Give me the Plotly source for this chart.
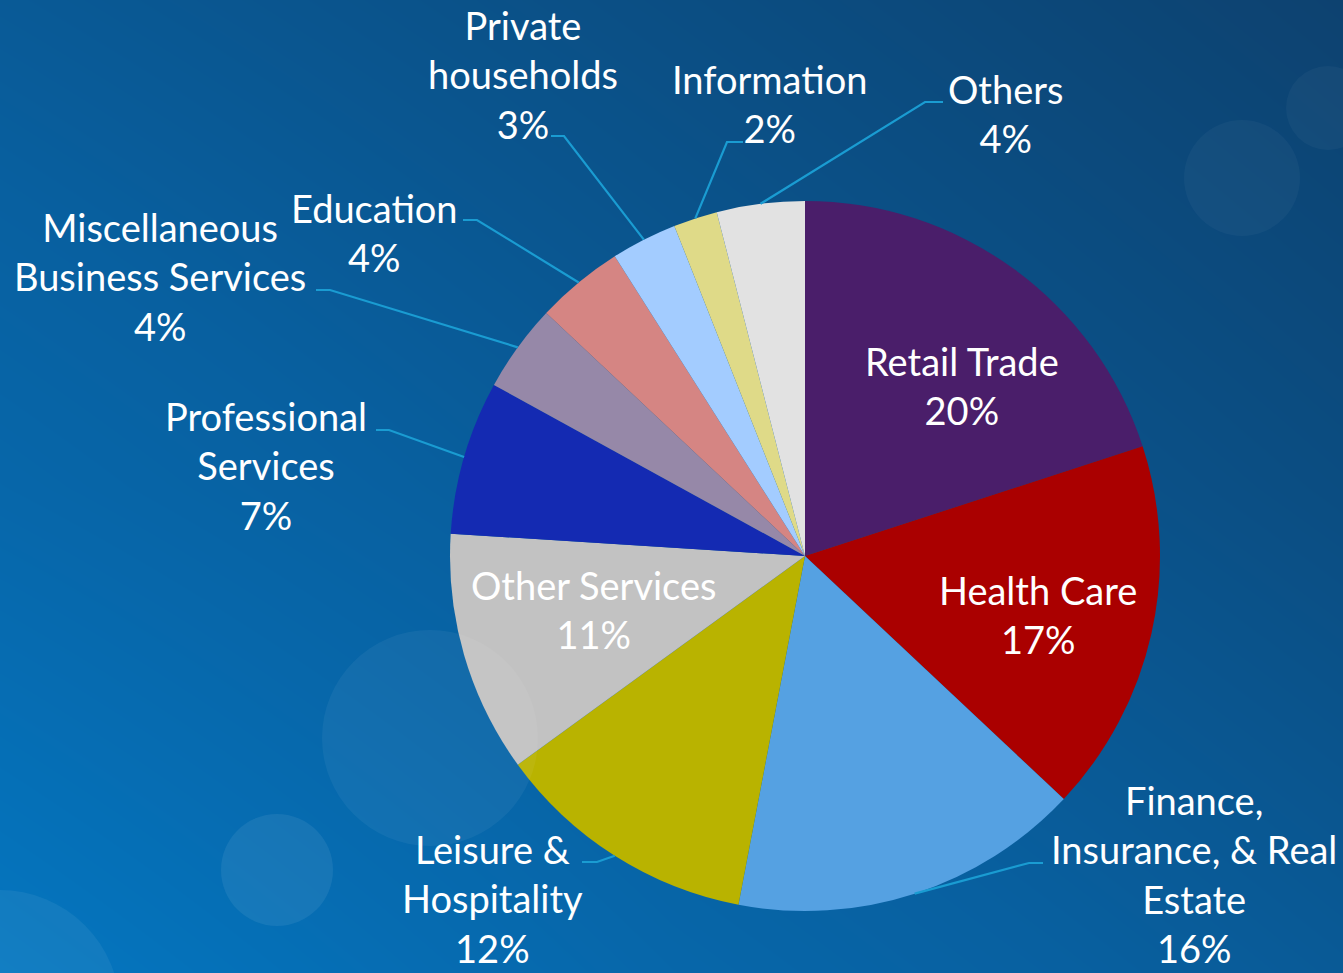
import math
import plotly.graph_objects as go

# ---------------- data ----------------
sectors = ["Retail Trade", "Health Care", "Finance, Insurance, & Real Estate",
           "Leisure & Hospitality", "Other Services", "Professional Services",
           "Miscellaneous Business Services", "Education", "Private households",
           "Information", "Others"]
shares = [20, 17, 16, 12, 11, 7, 4, 4, 3, 2, 4]
label_text = ["Retail Trade", "Health Care", "Finance,<br>Insurance, & Real<br>Estate",
              "Leisure &<br>Hospitality", "Other Services", "Professional<br>Services",
              "Miscellaneous<br>Business Services", "Education", "Private<br>households",
              "Information", "Others"]
colors = ["#4A1E6A", "#AA0000", "#55A1E2", "#B9B300", "#C2C2C2", "#142AB2",
          "#9688A8", "#D58583", "#A3CCFF", "#DFDA88", "#E2E2E2"]

# ---------------- layout constants (pixels) ----------------
W, H = 1343, 973
CX, CY, R = 805, 556, 355
FONT = "Lato"
FS = 38
LEADER = "#1A9CD2"

# label block centre (x, y) and leader (start, elbow) or None for inside labels
label_pos = [(962, 385), (1038, 614), (1194, 874), (492, 898), (593, 609),
             (266, 466), (160, 276), (374, 233), (523, 74), (769, 104), (1005, 114)]
leaders = [None, None, ((1043, 863), (1029, 863)), ((582, 862), (597, 862)), None,
           ((376, 430), (389, 430)), ((316, 290), (330, 290)), ((463, 220), (477, 220)),
           ((551, 136), (564, 136)), ((743, 142), (727, 142)), ((943, 102), (925, 102))]


def px(x):
    return x / W


def py(y):
    return 1 - y / H


fig = go.Figure()

# background gradient
fig.add_trace(go.Heatmap(
    x=[0, 0.5, 1], y=[0, 0.5, 1],
    z=[[0.0, 0.35, 0.6], [0.35, 0.6, 0.82], [0.6, 0.8, 1.0]],
    zsmooth="best", showscale=False, hoverinfo="skip",
    colorscale=[[0, "#0476C0"], [0.5, "#0860A0"], [1, "#0D4270"]],
    xaxis="x", yaxis="y"))

fig.add_trace(go.Pie(
    labels=sectors, values=shares, sort=False, direction="clockwise", rotation=0,
    marker=dict(colors=colors, line=dict(width=0)),
    textinfo="none", hoverinfo="label+percent", showlegend=False,
    domain=dict(x=[px(CX - R), px(CX + R)], y=[py(CY + R), py(CY - R)])))

total = sum(shares)
annotations = []
shapes = []

# decorative bokeh circles
for (bx, by, br, op) in [(277, 870, 56, 0.07), (430, 738, 108, 0.05), (0, 1010, 120, 0.06),
                         (1242, 178, 58, 0.035), (1328, 108, 42, 0.035)]:
    shapes.append(dict(type="circle", xref="paper", yref="paper",
                       x0=px(bx - br), x1=px(bx + br), y0=py(by + br), y1=py(by - br),
                       fillcolor="white", opacity=op, line=dict(width=0), layer="above"))

cum = 0
for i, v in enumerate(shares):
    mid = (cum + v / 2) / total * 2 * math.pi
    cum += v
    pct = f"{round(v / total * 100)}%"
    lx, ly = label_pos[i]
    annotations.append(dict(
        x=px(lx), y=py(ly), xref="paper", yref="paper", showarrow=False,
        text=f"{label_text[i]}<br>{pct}", xanchor="center", yanchor="middle",
        align="center", font=dict(family=FONT, size=FS, color="white")))
    if leaders[i] is not None:
        (x0, y0), (x1, y1) = leaders[i]
        ex = CX + R * math.sin(mid)
        ey = CY - R * math.cos(mid)
        path = (f"M {px(x0)} {py(y0)} L {px(x1)} {py(y1)} L {px(ex)} {py(ey)}")
        shapes.append(dict(type="path", xref="paper", yref="paper", path=path,
                           line=dict(color=LEADER, width=2.2), layer="above"))

fig.update_layout(
    width=W, height=H, margin=dict(l=0, r=0, t=0, b=0),
    paper_bgcolor="#0860A0", plot_bgcolor="#0860A0",
    xaxis=dict(visible=False, range=[0, 1], domain=[0, 1], fixedrange=True),
    yaxis=dict(visible=False, range=[0, 1], domain=[0, 1], fixedrange=True),
    annotations=annotations, shapes=shapes, showlegend=False)

fig.write_html("out.html", config={"displayModeBar": False},
               post_script="document.body.style.margin='0';document.body.style.overflow='hidden';")
